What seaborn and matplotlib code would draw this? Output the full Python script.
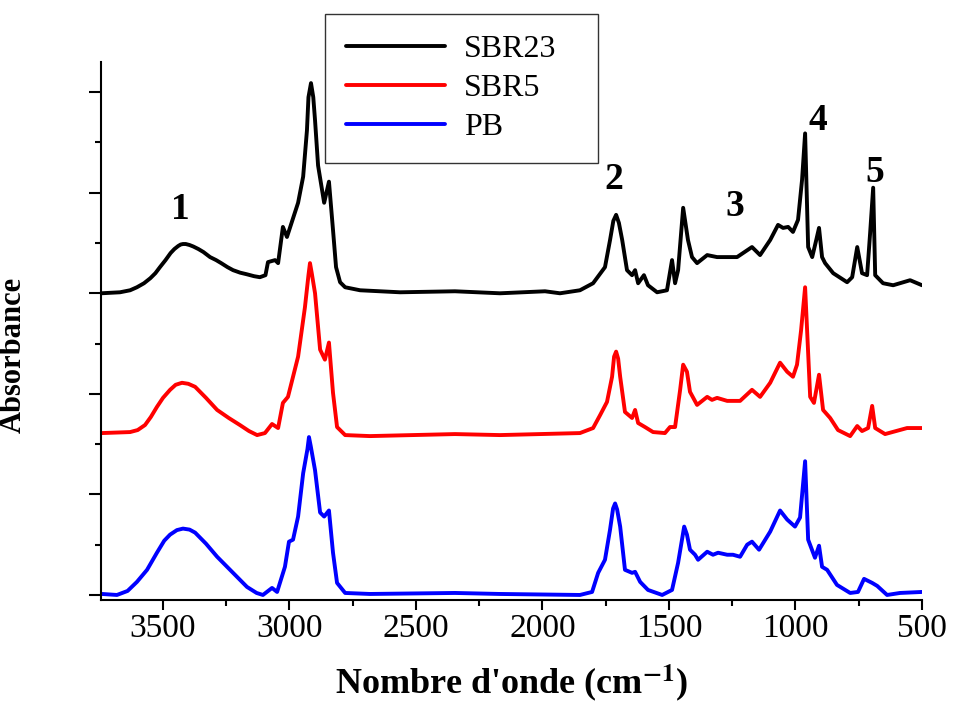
import numpy as np
import pandas as pd
import matplotlib
matplotlib.use("Agg")
import matplotlib.pyplot as plt
import seaborn as sns
from matplotlib.ticker import MultipleLocator

# ---- data ----
sbr23_wn = [3745, 3670, 3630, 3603, 3575, 3550, 3530, 3512, 3490, 3470, 3455, 3440, 3430, 3421, 3410,
            3395, 3380, 3360, 3340, 3314, 3290, 3270, 3245, 3223, 3195, 3170, 3140, 3117,
            3095, 3085, 3057, 3045, 3026, 3010, 2966, 2946, 2931, 2925, 2915, 2906, 2899, 2887, 2863,
            2844, 2828, 2816, 2800, 2780, 2721, 2563, 2346, 2168, 1990, 1931, 1852, 1800, 1753, 1733,
            1720, 1709, 1698, 1685,
            1666, 1646, 1634, 1622, 1599, 1583, 1547, 1508, 1488, 1476, 1464, 1444, 1425, 1409, 1389,
            1349, 1310, 1231, 1172, 1140, 1100, 1069, 1049, 1029, 1010, 990, 974, 962, 950, 934, 918,
            907, 895, 883, 851, 796, 776, 756, 737, 717, 705, 693, 685, 654, 614, 547, 500]
sbr23_abs = [3.00, 3.01, 3.03, 3.06, 3.10, 3.15, 3.20, 3.26, 3.33, 3.40, 3.44, 3.47, 3.485, 3.49, 3.49,
             3.48, 3.465, 3.44, 3.41, 3.36, 3.33, 3.30, 3.26, 3.23, 3.205, 3.19, 3.17, 3.16,
             3.18, 3.31, 3.33, 3.30, 3.66, 3.56, 3.90, 4.16, 4.62, 4.95, 5.09, 4.95, 4.72, 4.27, 3.90,
             4.11, 3.63, 3.26, 3.11, 3.06, 3.03, 3.01, 3.02, 3.00, 3.02, 3.00, 3.03, 3.10, 3.26, 3.53,
             3.72, 3.78, 3.70, 3.53,
             3.23, 3.18, 3.23, 3.10, 3.18, 3.08, 3.01, 3.03, 3.33, 3.10, 3.23, 3.85, 3.53, 3.36, 3.30,
             3.38, 3.36, 3.36, 3.46, 3.38, 3.53, 3.68, 3.65, 3.66, 3.61, 3.73, 4.13, 4.59, 3.46, 3.36, 3.53,
             3.65, 3.36, 3.30, 3.20, 3.11, 3.16, 3.46, 3.20, 3.18, 3.60, 4.05, 3.18, 3.10, 3.08, 3.13, 3.08]

sbr5_wn = [3741, 3630, 3600, 3571, 3548, 3524, 3500, 3472, 3450, 3425, 3400, 3373, 3330, 3286, 3240,
           3196, 3160, 3128, 3097, 3069, 3045, 3026, 3006,
           2966, 2939, 2925, 2919, 2912, 2899, 2879, 2860, 2844, 2828, 2812, 2780, 2682, 2346, 2168,
           1852, 1800, 1772, 1745, 1725, 1717, 1709, 1701, 1693, 1674, 1646, 1634, 1622, 1595, 1563,
           1516, 1496, 1476, 1456,
           1444, 1429, 1417, 1389, 1349, 1330, 1310, 1270, 1219, 1172, 1140, 1100, 1061, 1033, 1010,
           994, 978, 962, 942, 927, 907, 891, 863, 832, 784, 756, 737, 713, 697, 685, 646, 559, 500]
sbr5_abs = [1.61, 1.62, 1.64, 1.69, 1.77, 1.87, 1.96, 2.04, 2.09, 2.11, 2.10, 2.07, 1.96, 1.84, 1.76,
            1.69, 1.63, 1.59, 1.61, 1.70, 1.66, 1.91, 1.97,
            2.37, 2.86, 3.18, 3.30, 3.20, 3.00, 2.44, 2.34, 2.51, 2.01, 1.67, 1.59, 1.58, 1.60, 1.59,
            1.61, 1.66, 1.79, 1.92, 2.17, 2.37, 2.42, 2.35, 2.17, 1.82, 1.76, 1.84, 1.71, 1.67, 1.62,
            1.61, 1.67, 1.67, 2.04,
            2.29, 2.22, 2.02, 1.89, 1.97, 1.94, 1.96, 1.93, 1.93, 2.04, 1.97, 2.11, 2.31, 2.22, 2.17,
            2.29, 2.63, 3.06, 1.97, 1.91, 2.19, 1.84, 1.76, 1.64, 1.58, 1.68, 1.63, 1.66, 1.88, 1.66,
            1.60, 1.66, 1.66]

pb_wn = [3741, 3682, 3640, 3603, 3563, 3524, 3495, 3472, 3445, 3421, 3395, 3373, 3330, 3286, 3227,
         3168, 3130, 3105, 3069, 3049, 3018,
         3002, 2986, 2966, 2946, 2929, 2923, 2916, 2899, 2879, 2863, 2844, 2828, 2812, 2780, 2682,
         2346, 2168,
         1852, 1804, 1780, 1753, 1733, 1721, 1713, 1705, 1693, 1674, 1646, 1634, 1614, 1583, 1527,
         1488, 1464,
         1440, 1429, 1417, 1397, 1385, 1349, 1326, 1306, 1270, 1247, 1219, 1191, 1172, 1144, 1100,
         1061, 1033, 1002, 982, 962, 950, 923, 907, 895, 875, 836, 784, 753, 729, 697, 677, 638,
         587, 500]
pb_abs = [0.01, 0.00, 0.04, 0.13, 0.25, 0.42, 0.54, 0.60, 0.645, 0.66, 0.65, 0.62, 0.51, 0.38, 0.23,
          0.08, 0.02, 0.00, 0.07, 0.03, 0.28,
          0.53, 0.55, 0.78, 1.21, 1.45, 1.57, 1.48, 1.24, 0.82, 0.78, 0.84, 0.42, 0.12, 0.02, 0.01,
          0.02, 0.01,
          0.00, 0.03, 0.22, 0.35, 0.65, 0.86, 0.91, 0.85, 0.68, 0.25, 0.22, 0.23, 0.13, 0.05, 0.00,
          0.05, 0.32,
          0.68, 0.60, 0.45, 0.40, 0.35, 0.43, 0.40, 0.42, 0.40, 0.40, 0.38, 0.50, 0.53, 0.45, 0.63,
          0.84, 0.75, 0.68, 0.77, 1.33, 0.55, 0.37, 0.49, 0.28, 0.25, 0.10, 0.02, 0.03, 0.16, 0.12,
          0.09, 0.00, 0.02, 0.03]

series_names = ["SBR23", "SBR5", "PB"]
series_colors = ["black", "red", "blue"]
band_labels = ["1", "2", "3", "4", "5"]
band_wn = [3433, 1717, 1239, 911, 685]
band_y = [3.83, 4.13, 3.86, 4.72, 4.20]

# ---- build table ----
df = pd.concat([
    pd.DataFrame({"wn": sbr23_wn, "A": sbr23_abs, "s": "SBR23"}),
    pd.DataFrame({"wn": sbr5_wn, "A": sbr5_abs, "s": "SBR5"}),
    pd.DataFrame({"wn": pb_wn, "A": pb_abs, "s": "PB"}),
], ignore_index=True)

sns.set_style("ticks")
plt.rcParams["font.family"] = ["Liberation Serif", "DejaVu Serif"]
plt.rcParams["mathtext.fontset"] = "stix"
for k in ["text.color", "axes.labelcolor", "xtick.color", "ytick.color", "axes.edgecolor"]:
    plt.rcParams[k] = "black"

fig = plt.figure(figsize=(9.55, 7.06), dpi=100)
ax = fig.add_axes([101 / 955, 106 / 706, (922 - 101) / 955, (600 - 62) / 706])

sns.lineplot(data=df, x="wn", y="A", hue="s", hue_order=series_names,
             palette=series_colors, linewidth=2.8, ax=ax, legend=False,
             estimator=None, sort=False)
for ln in ax.lines:
    ln.set_solid_joinstyle("round")
    ln.set_solid_capstyle("round")

ax.set_xlim(3745, 500)
ax.set_ylim(-0.05, 5.30)
ax.xaxis.set_major_locator(MultipleLocator(500))
ax.xaxis.set_minor_locator(MultipleLocator(250))
ax.yaxis.set_major_locator(MultipleLocator(1))
ax.yaxis.set_minor_locator(MultipleLocator(0.5))
ax.set_yticklabels([])
ax.tick_params(axis="x", which="major", direction="out", length=7, width=1.5,
               labelsize=24, pad=3)
ax.tick_params(axis="x", which="minor", direction="out", length=4, width=1.5)
ax.tick_params(axis="y", which="major", direction="out", length=9, width=1.5)
ax.tick_params(axis="y", which="minor", direction="out", length=4.5, width=1.5)
for sp in ["top", "right"]:
    ax.spines[sp].set_visible(False)
for sp in ["left", "bottom"]:
    ax.spines[sp].set_linewidth(1.5)

ax.set_xlabel(r"Nombre d'onde (cm$^{\mathbf{-1}}$)", fontsize=26, fontweight="bold", labelpad=13)
ax.set_ylabel("Absorbance", fontsize=22, fontweight="bold")
ax.yaxis.set_label_coords((28 - 101) / 821, (600 - 355) / 538)

for lab, xw, yv in zip(band_labels, band_wn, band_y):
    ax.text(xw, yv, lab, fontsize=27, fontweight="bold", ha="center", va="center")

handles = [plt.Line2D([], [], color=c, linewidth=2.8) for c in series_colors]
leg = fig.legend(handles, series_names, loc="upper left",
                 bbox_to_anchor=(325 / 955, 1 - 160 / 706, 273 / 955, 146 / 706),
                 mode="expand", borderaxespad=0,
                 fontsize=23, frameon=True, fancybox=False, edgecolor="black",
                 handlelength=3.1, handletextpad=0.6, labelspacing=0.3,
                 borderpad=0.65)
leg.get_frame().set_linewidth(1.0)

fig.savefig("out.png", dpi=100)
